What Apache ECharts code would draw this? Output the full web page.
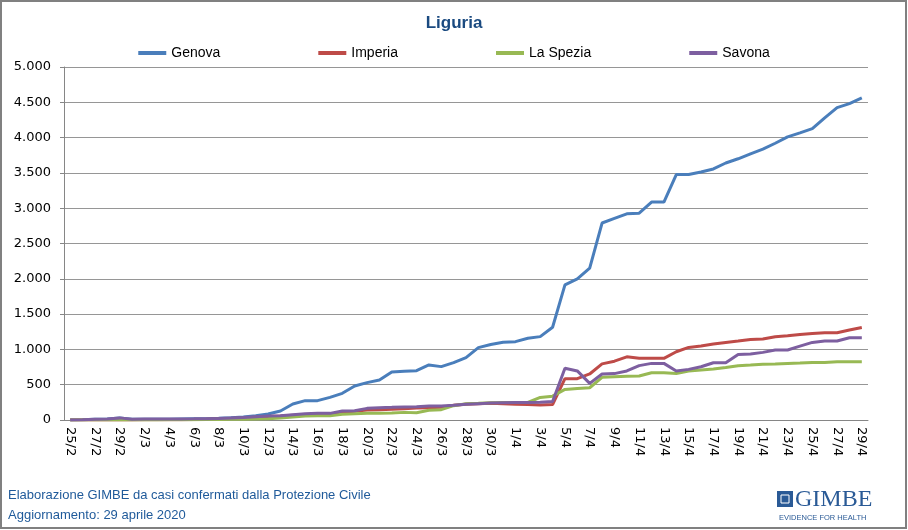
<!DOCTYPE html>
<html>
<head>
<meta charset="utf-8">
<script src="https://cdn.jsdelivr.net/npm/echarts@6/dist/echarts.min.js"></script>
<style>
  html, body { margin: 0; padding: 0; background: #fff; }
  #chart { width: 908px; height: 530px; }
</style>
</head>
<body>
<div id="chart"></div>
<script>
const dates = [
  "25/2", "26/2", "27/2", "28/2", "29/2",
  "1/3", "2/3", "3/3", "4/3", "5/3", "6/3", "7/3", "8/3", "9/3", "10/3",
  "11/3", "12/3", "13/3", "14/3", "15/3", "16/3", "17/3", "18/3", "19/3", "20/3",
  "21/3", "22/3", "23/3", "24/3", "25/3", "26/3", "27/3", "28/3", "29/3", "30/3", "31/3",
  "1/4", "2/4", "3/4", "4/4", "5/4", "6/4", "7/4", "8/4", "9/4", "10/4",
  "11/4", "12/4", "13/4", "14/4", "15/4", "16/4", "17/4", "18/4", "19/4", "20/4",
  "21/4", "22/4", "23/4", "24/4", "25/4", "26/4", "27/4", "28/4", "29/4"
];

const genova = [
  0, 5, 12, 14, 30, 10, 12, 12, 12, 14, 16, 18, 24, 32, 42,
  61, 85, 128, 227, 274, 274, 321, 378, 482, 529,
  567, 681, 690, 699, 780, 756, 813, 884, 1025, 1070, 1101,
  1110, 1158, 1181, 1314, 1914, 2000, 2151, 2790, 2855, 2920,
  2930, 3087, 3087, 3476, 3478, 3513, 3556, 3640, 3700, 3770,
  3836, 3920, 4010, 4066, 4126, 4280, 4425, 4482, 4562
];

const imperia = [
  0, 0, 0, 0, 0, 0, 2, 3, 3, 5, 8, 10, 15, 20, 28,
  38, 48, 55, 66, 76, 80, 85, 108, 123, 142,
  146, 151, 160, 170, 175, 179, 208, 222, 231, 236, 230,
  224, 219, 212, 219, 585, 585, 652, 795, 833, 895,
  876, 873, 873, 967, 1028, 1047, 1075, 1099, 1118, 1141,
  1146, 1179, 1193, 1212, 1226, 1236, 1236, 1274, 1311
];

const laSpezia = [
  0, 0, 0, 0, 0, 0, 0, 0, 2, 3, 5, 6, 8, 10, 12,
  14, 19, 28, 42, 57, 61, 61, 80, 90, 94,
  94, 99, 108, 104, 137, 146, 203, 231, 236, 245, 248,
  248, 248, 319, 338, 433, 447, 457, 605, 614, 619,
  623, 670, 670, 660, 693, 708, 722, 745, 769, 778,
  788, 792, 802, 807, 816, 816, 826, 826, 826
];

const savona = [
  0, 5, 12, 14, 30, 12, 13, 14, 15, 15, 16, 18, 22, 28, 34,
  47, 57, 61, 76, 90, 94, 94, 127, 132, 165,
  175, 179, 184, 189, 198, 198, 208, 222, 231, 240, 246,
  248, 248, 252, 262, 733, 695, 519, 652, 657, 695,
  770, 802, 802, 693, 717, 755, 811, 811, 929, 934,
  958, 991, 991, 1047, 1099, 1118, 1118, 1165, 1165
];

const seriesNames = ["Genova", "Imperia", "La Spezia", "Savona"];
const seriesColors = ["#4a7ebb", "#be4b48", "#98b954", "#7d5fa0"];

const chart = echarts.init(document.getElementById("chart"), null, { renderer: "canvas" });

const fmtThousands = (v) => String(v).replace(/\B(?=(\d{3})+(?!\d))/g, ".");

const mkLine = (name, data, i) => ({
  name,
  type: "line",
  data,
  symbol: "none",
  showSymbol: false,
  smooth: false,
  lineStyle: { width: 3, color: seriesColors[i] },
  itemStyle: { color: seriesColors[i] },
  animation: false,
});

const option = {
  animation: false,
  backgroundColor: "#ffffff",
  title: {
    text: "Liguria",
    left: "center",
    top: 10,
    textStyle: {
      fontFamily: "Liberation Sans",
      fontSize: 17,
      fontWeight: "bold",
      color: "#1a4a80",
    },
  },
  legend: {
    top: 41,
    left: "center",
    itemGap: 98,
    itemWidth: 28,
    itemHeight: 4,
    icon: "rect",
    textStyle: { fontFamily: "Liberation Sans", fontSize: 14, color: "#000" },
    data: seriesNames,
  },
  grid: { left: 64, right: 40, top: 67, bottom: 110, containLabel: false },
  xAxis: {
    type: "category",
    data: dates,
    boundaryGap: true,
    axisLine: { lineStyle: { color: "#868686", width: 1 } },
    axisTick: { interval: 1, length: 5, lineStyle: { color: "#868686" } },
    axisLabel: {
      interval: 1,
      rotate: -90,
      margin: 7,
      fontFamily: "DejaVu Sans",
      fontSize: 13,
      color: "#000",
    },
  },
  yAxis: {
    type: "value",
    min: 0,
    max: 5000,
    interval: 500,
    axisLine: { show: true, lineStyle: { color: "#868686", width: 1 } },
    axisTick: { show: true, length: 4, lineStyle: { color: "#868686" } },
    splitLine: { lineStyle: { color: "#969696", width: 1 } },
    axisLabel: {
      margin: 13,
      fontFamily: "DejaVu Sans",
      fontSize: 13,
      color: "#000",
      formatter: fmtThousands,
    },
  },
  series: [
    mkLine("Genova", genova, 0),
    mkLine("Imperia", imperia, 1),
    mkLine("La Spezia", laSpezia, 2),
    mkLine("Savona", savona, 3),
  ],
  graphic: [
    {
      type: "rect",
      shape: { x: 1, y: 1, width: 905, height: 527 },
      style: { fill: "none", stroke: "#808080", lineWidth: 2 },
      silent: true,
      z: 100,
    },
    {
      type: "text",
      left: 8,
      top: 489,
      style: {
        text: "Elaborazione GIMBE da casi confermati dalla Protezione Civile",
        fontFamily: "Liberation Sans",
        fontSize: 13,
        fill: "#1f5a9a",
      },
    },
    {
      type: "text",
      left: 8,
      top: 509,
      style: {
        text: "Aggiornamento: 29 aprile 2020",
        fontFamily: "Liberation Sans",
        fontSize: 13,
        fill: "#1f5a9a",
      },
    },
    // logo GIMBE
    {
      type: "group",
      left: 777,
      top: 488,
      children: [
        {
          type: "rect",
          shape: { x: 0, y: 3, width: 16, height: 16 },
          style: { fill: "#2a5a96" },
        },
        {
          type: "rect",
          shape: { x: 4, y: 7, width: 8, height: 8 },
          style: { fill: "none", stroke: "#ffffff", lineWidth: 1 },
        },
        {
          type: "text",
          x: 18,
          y: 0,
          style: {
            text: "GIMBE",
            fontFamily: "Liberation Serif",
            fontSize: 24,
            fill: "#2a5a96",
          },
        },
        {
          type: "text",
          x: 2,
          y: 26,
          style: {
            text: "EVIDENCE FOR HEALTH",
            fontFamily: "Liberation Sans",
            fontSize: 7.5,
            fill: "#2a5a96",
          },
        },
      ],
    },
  ],
};

chart.setOption(option);
</script>
</body>
</html>
